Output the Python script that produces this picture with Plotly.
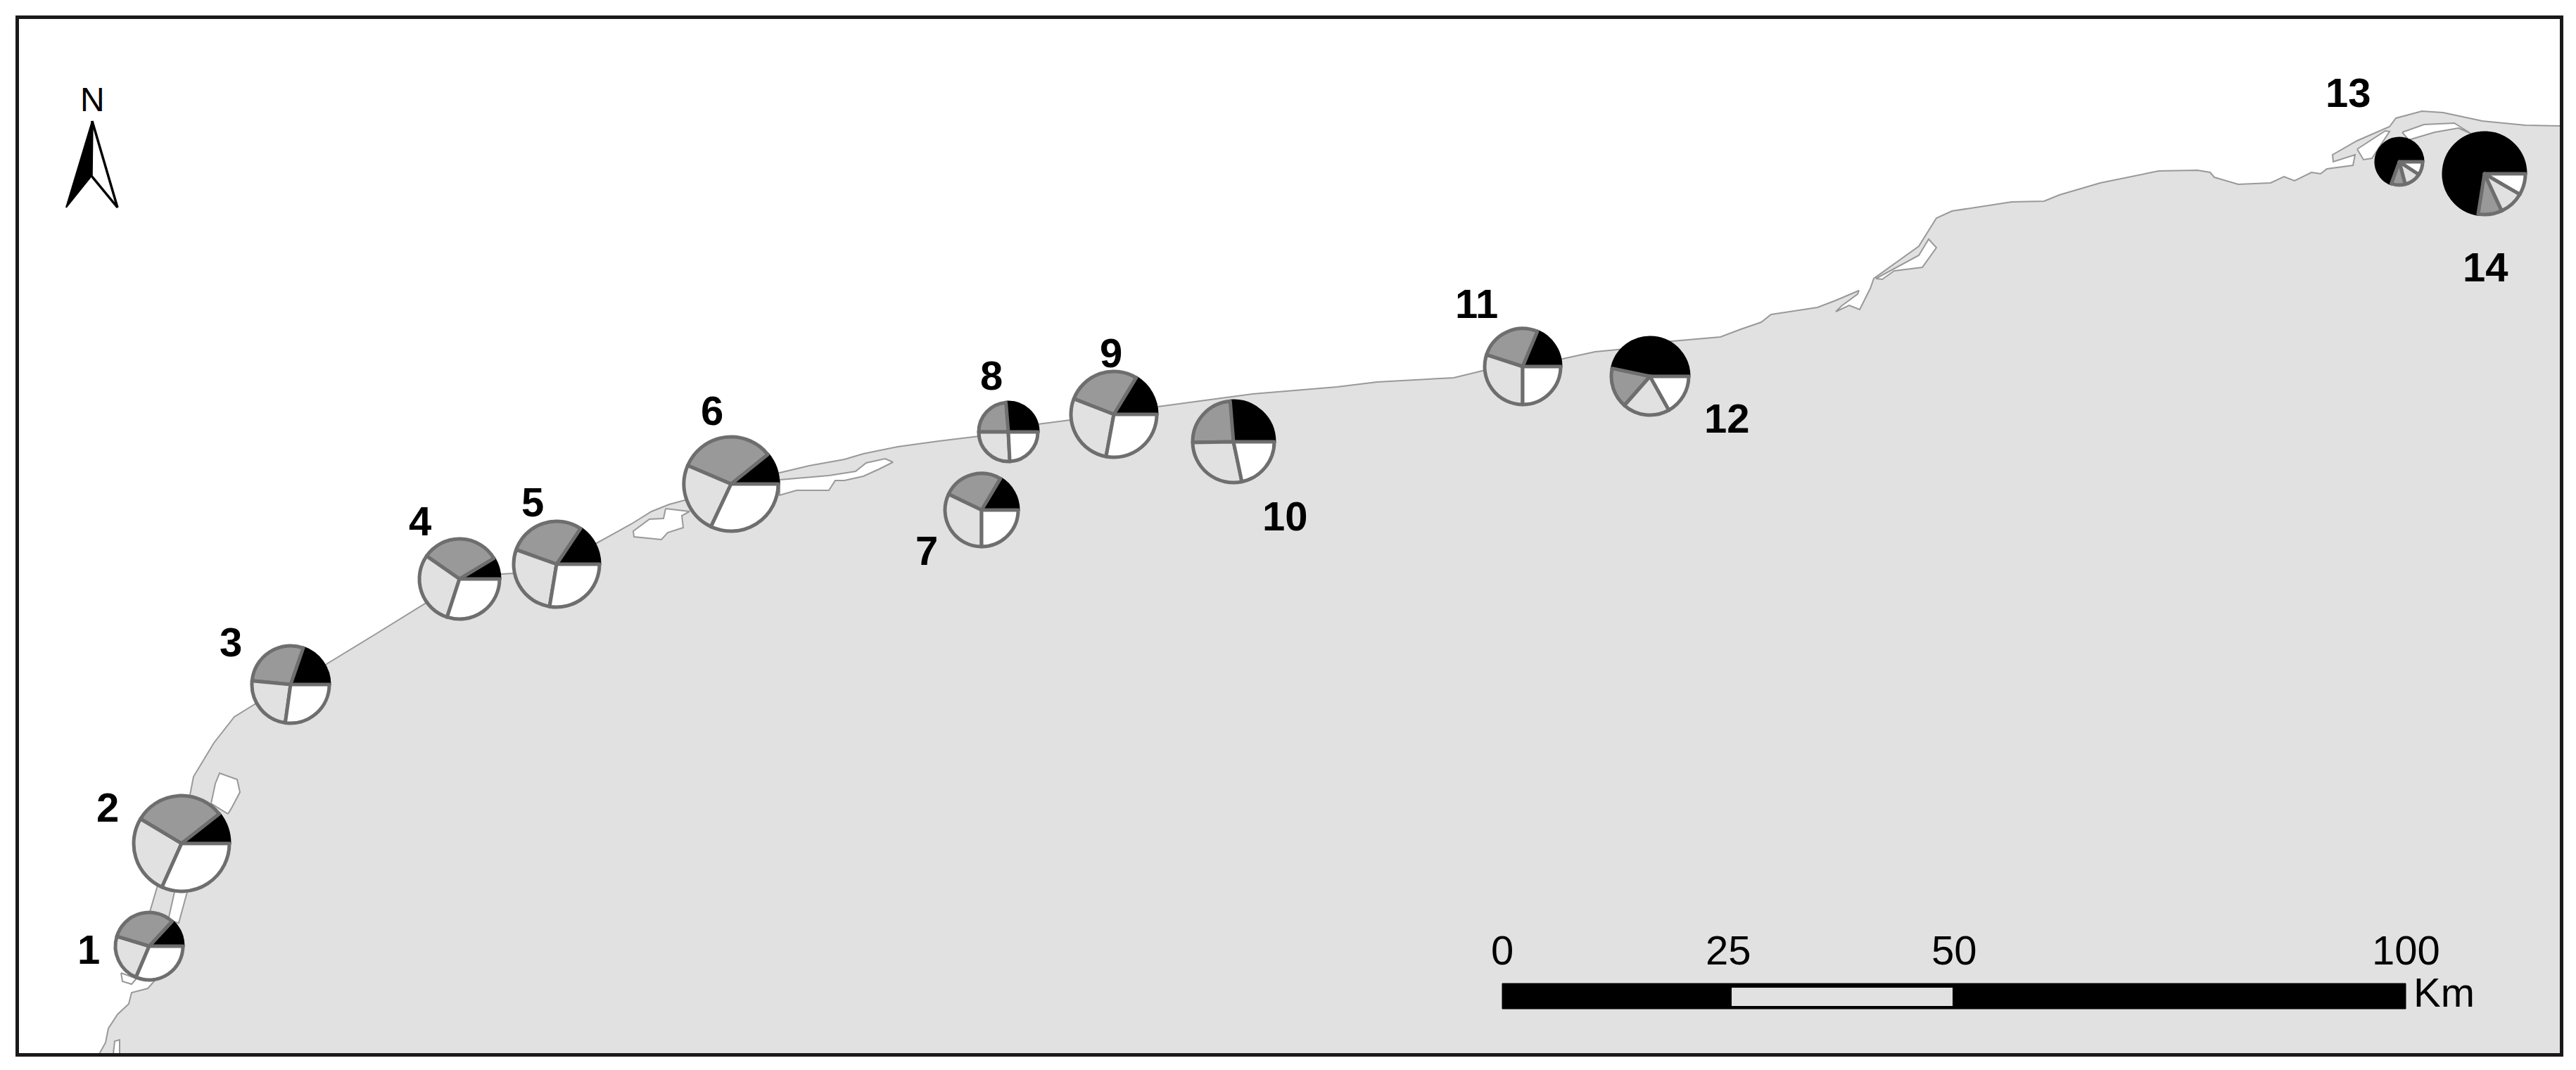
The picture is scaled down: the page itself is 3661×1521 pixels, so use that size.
import plotly.graph_objects as go

W = 3661
H = 1521

# map frame, image pixels
frame_x = [27, 3638]
frame_y = [27, 1497]

# coastline, pixels
coast_x = [140, 150, 154, 167, 183, 187, 210, 219, 210, 213, 223, 240, 270, 275, 304, 333, 362, 464, 536, 604,
           713, 730, 848, 897, 926, 951, 977, 1108, 1150, 1200, 1227, 1276, 1334, 1392, 1475, 1521, 1646, 1780,
           1900, 1957, 2066, 2107, 2221, 2267, 2308, 2376, 2445, 2474, 2503, 2517, 2583, 2609, 2642, 2640, 2617,
           2609, 2628, 2643, 2658, 2663, 2727, 2752, 2774, 2859, 2905, 2927, 2985, 3068, 3123, 3141, 3147, 3181,
           3227, 3246, 3261, 3285, 3298, 3307, 3344, 3347, 3316, 3315, 3350, 3396, 3405, 3442, 3472, 3528, 3589,
           3640, 3640, 140]
coast_y = [1500, 1482, 1462, 1442, 1427, 1411, 1405, 1395, 1340, 1296, 1262, 1200, 1130, 1104, 1056, 1019, 1001,
           944, 900, 858, 816, 815, 772, 745, 727, 717, 710, 672, 662, 653, 645, 635, 627, 620, 603, 597, 578,
           560, 550, 543, 537, 527, 510, 500, 496, 485, 479, 468, 458, 447, 437, 427, 413, 418, 435, 443, 434,
           440, 410, 396, 350, 310, 300, 287, 286, 277, 260, 243, 242, 245, 252, 262, 260, 251, 257, 245, 247,
           240, 235, 220, 230, 220, 200, 180, 168, 158, 160, 172, 178, 179, 1500, 1500]

# lagoons and small inlets
lagoons = [
    ([161, 163, 170, 170], [1498, 1480, 1478, 1498]),
    ([172, 174, 187, 194], [1383, 1395, 1399, 1391]),
    ([239, 248, 260, 266, 254], [1308, 1268, 1230, 1268, 1312]),
    ([324, 330, 341, 337, 312, 306, 300], [1157, 1147, 1126, 1108, 1099, 1114, 1142]),
    ([946, 943, 923, 900, 901, 940, 949, 971, 969, 980], [723, 737, 738, 755, 763, 767, 757, 750, 733, 727]),
    ([1108, 1178, 1216, 1231, 1258, 1269, 1249, 1227, 1200, 1187, 1178, 1132, 1108],
     [682, 676, 670, 658, 652, 657, 667, 677, 683, 683, 697, 697, 704]),
    ([2666, 2727, 2741, 2752, 2732, 2692, 2675], [396, 363, 340, 352, 380, 385, 397]),
    ([3350, 3359, 3371, 3396, 3390], [212, 227, 225, 187, 186]),
    ([3414, 3445, 3488, 3512, 3494, 3460, 3423], [188, 177, 175, 190, 182, 188, 199]),
]

# sampling sites
site_labels = ["1", "2", "3", "4", "5", "6", "7", "8", "9", "10", "11", "12", "13", "14"]
site_x = [212, 258, 413, 653, 791, 1039, 1395, 1433, 1583, 1753, 2164, 2345, 3410, 3531]
site_y = [1345, 1199, 973, 823, 802, 688, 725, 614, 589, 628, 521, 535, 230, 247]
site_r = [48, 68, 55, 57, 61, 67, 52, 42, 61, 58, 54, 55, 33, 58]
label_x = [126, 153, 328, 597, 757, 1012, 1317, 1409, 1579, 1826, 2098, 2454, 3337, 3532]
label_y = [1349, 1147, 912, 740, 713, 583, 782, 533, 502, 733, 432, 594, 132, 380]

# pie shares in percent, anticlockwise from east
black_share = [13.1, 10.6, 19.7, 8.6, 15.6, 10.8, 16.4, 26.3, 16.3, 26.3, 18.7, 46.7, 69.4, 72.5]
grey_share = [32.2, 30.8, 28.8, 31.7, 28.9, 32.8, 26.5, 23.7, 27.8, 24.0, 26.3, 16.8, 9.7, 9.4]
light_share = [23.3, 26.9, 24.3, 29.7, 27.9, 24.4, 32.1, 25.8, 28.0, 28.0, 30.0, 19.6, 11.7, 9.7]
white_share = [31.4, 31.7, 27.2, 30.0, 27.6, 32.0, 25.0, 24.2, 27.9, 21.7, 25.0, 16.9, 9.2, 8.4]
pie_colors = ["#000000", "#999999", "#e1e1e1", "#ffffff"]

# scale bar
scale_km = [0, 25, 50, 100]
scale_labels = ["0", "25", "50", "100"]
scale_left = 2135
px_per_km = 12.84
scale_top = 1398
scale_bottom = 1434

# north arrow
arrow_left_x = [131, 94, 130]
arrow_left_y = [172, 295, 250]
arrow_right_x = [131, 130, 167]
arrow_right_y = [172, 250, 295]

LAND = "#e1e1e1"
COAST = "#999999"
EDGE = "#6e6e6e"
FONT = "Liberation Sans"


def km_x(km):
    return scale_left + km * px_per_km


fig = go.Figure()

fig.add_trace(go.Scatter(x=coast_x, y=coast_y, mode="lines", fill="toself", fillcolor=LAND,
                         line=dict(color=COAST, width=2), hoverinfo="skip"))
for lx, ly in lagoons:
    fig.add_trace(go.Scatter(x=lx + lx[:1], y=ly + ly[:1], mode="lines", fill="toself", fillcolor="white",
                             line=dict(color=COAST, width=2), hoverinfo="skip"))

# north arrow
fig.add_trace(go.Scatter(x=arrow_left_x + arrow_left_x[:1], y=arrow_left_y + arrow_left_y[:1], mode="lines",
                         fill="toself", fillcolor="black", line=dict(color="black", width=2), hoverinfo="skip"))
fig.add_trace(go.Scatter(x=arrow_right_x + arrow_right_x[:1], y=arrow_right_y + arrow_right_y[:1], mode="lines",
                         fill="toself", fillcolor="white", line=dict(color="black", width=3.5), hoverinfo="skip"))

# scale bar: black bar with the 25-50 part left open
x0, x1 = km_x(scale_km[0]), km_x(scale_km[-1])
fig.add_trace(go.Scatter(x=[x0, x1, x1, x0, x0], y=[scale_top, scale_top, scale_bottom, scale_bottom, scale_top],
                         mode="lines", fill="toself", fillcolor="black", line=dict(color="black", width=1),
                         hoverinfo="skip"))
x0, x1 = km_x(scale_km[1]) + 5, km_x(scale_km[2]) - 2
fig.add_trace(go.Scatter(x=[x0, x1, x1, x0, x0],
                         y=[scale_top + 6, scale_top + 6, scale_bottom - 4, scale_bottom - 4, scale_top + 6],
                         mode="lines", fill="toself", fillcolor=LAND, line=dict(color=LAND, width=0),
                         hoverinfo="skip"))

# one pie per site, placed through its domain
for i in range(len(site_labels)):
    r = site_r[i]
    fig.add_trace(go.Pie(
        values=[black_share[i], grey_share[i], light_share[i], white_share[i]],
        domain=dict(x=[(site_x[i] - r) / W, (site_x[i] + r) / W],
                    y=[1 - (site_y[i] + r) / H, 1 - (site_y[i] - r) / H]),
        sort=False, direction="counterclockwise", rotation=90 - black_share[i] * 3.6,
        textinfo="none", hoverinfo="skip",
        marker=dict(colors=pie_colors, line=dict(color=["#000000", EDGE, EDGE, EDGE], width=5)),
    ))

annotations = []
for txt, x, y in zip(site_labels, label_x, label_y):
    annotations.append(dict(x=x, y=y, text="<b>%s</b>" % txt, showarrow=False,
                            font=dict(family=FONT, size=58, color="black")))
for km, txt in zip(scale_km, scale_labels):
    annotations.append(dict(x=km_x(km), y=1350, text=txt, showarrow=False,
                            font=dict(family=FONT, size=58, color="black")))
annotations.append(dict(x=3473, y=1410, text="Km", showarrow=False,
                        font=dict(family=FONT, size=58, color="black")))
annotations.append(dict(x=131, y=142, text="N", showarrow=False,
                        font=dict(family=FONT, size=48, color="black")))

fig.update_layout(
    width=W,
    height=H,
    margin=dict(l=0, r=0, t=0, b=0),
    paper_bgcolor="white",
    plot_bgcolor="white",
    showlegend=False,
    annotations=annotations,
    xaxis=dict(domain=[frame_x[0] / W, frame_x[1] / W], range=frame_x, showgrid=False, zeroline=False,
               showticklabels=False, ticks="", showline=True, mirror=True, linecolor="#1a1a1a", linewidth=5),
    yaxis=dict(domain=[1 - frame_y[1] / H, 1 - frame_y[0] / H], range=frame_y[::-1], showgrid=False, zeroline=False,
               showticklabels=False, ticks="", showline=True, mirror=True, linecolor="#1a1a1a", linewidth=5),
)

fig.write_html("out.html", config={"displayModeBar": False},
               post_script="document.body.style.margin='0';document.body.style.overflow='hidden';")
